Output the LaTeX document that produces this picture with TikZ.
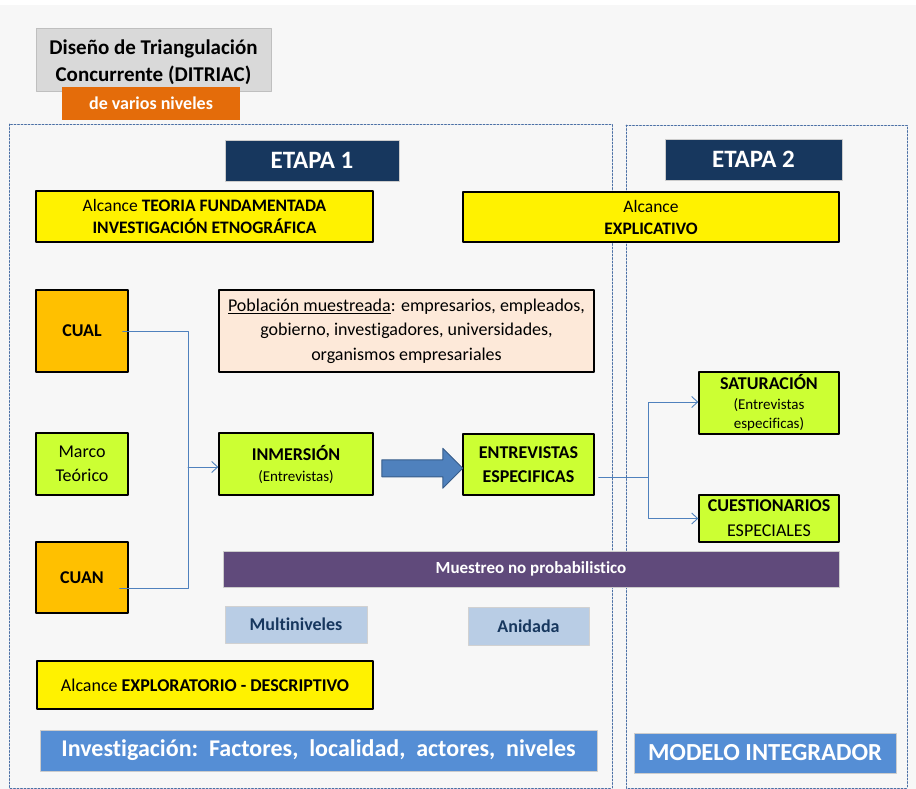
\documentclass[tikz,border=0pt]{standalone}
\usepackage{fontspec}
\setmainfont{Carlito}[Ligatures=NoCommon]
\usepackage{tikz}
\usetikzlibrary{arrows.meta,shapes.arrows,calc}

\definecolor{fondo}{HTML}{F7F7F7}
\definecolor{grisclaro}{HTML}{D9D9D9}
\definecolor{naranja}{HTML}{E46C0A}
\definecolor{marino}{HTML}{17375E}
\definecolor{oro}{HTML}{FFC000}
\definecolor{salmon}{HTML}{FDE9D9}
\definecolor{lima}{HTML}{CCFF33}
\definecolor{azulenlace}{HTML}{4F81BD}
\definecolor{azulborde}{HTML}{385D8A}
\definecolor{morado}{HTML}{604A7B}
\definecolor{celeste}{HTML}{B9CDE5}
\definecolor{azulbarra}{HTML}{558ED5}
\definecolor{marco}{HTML}{4A6FA5}

\begin{document}
\begin{tikzpicture}[line cap=round,line join=round,x=1pt,y=-1pt,
    caja/.style={draw=black,line width=1.4pt,align=center,inner sep=0pt,
        font=\fontsize{18}{24}\selectfont},
    etapa/.style={draw=black!20,line width=0.8pt,fill=marino,text=white,inner sep=0pt,
        font=\fontsize{25}{28}\selectfont\bfseries},
    barra/.style={draw=black!20,line width=0.8pt,fill=azulbarra,text=white,inner sep=0pt,
        font=\fontsize{24}{28}\selectfont\bfseries},
    etiqueta/.style={draw=black!18,line width=0.8pt,fill=celeste,text=marino,inner sep=0pt,
        font=\fontsize{18}{22}\selectfont\bfseries},
    enlace/.style={draw=azulenlace,line width=0.9pt},
    punta/.style={-{Straight Barb[length=6pt,width=11pt]}},
    zona/.style={draw=marco,line width=0.7pt,dash pattern=on 2pt off 1.5pt},
    flecha/.style={single arrow,draw=azulborde,fill=azulenlace,line width=1pt,inner sep=8pt,
        minimum height=81pt,single arrow head extend=11.5pt,single arrow tip angle=90}]
    \useasboundingbox (0,0) rectangle (916,789);
    \fill[fondo] (0,5) rectangle (916,789);

    % titulo
    \node[draw=black!25,line width=0.8pt,fill=grisclaro,align=center,inner sep=0pt,
        minimum width=235pt,minimum height=63pt,font=\fontsize{21}{27}\selectfont\bfseries]
        (titulo) at (153.5,59.5) {\rule{0pt}{21pt}Diseño de Triangulación\\Concurrente (DITRIAC)};
    \node[fill=naranja,text=white,inner sep=0pt,minimum width=178pt,minimum height=33pt,
        font=\fontsize{18}{22}\selectfont\bfseries] (niveles) at (151,103.5) {de varios niveles};

    % zonas
    \draw[zona] (9,124) rectangle (612,788);
    \draw[zona] (626,125) rectangle (907,788);

    \node[etapa,minimum width=174pt,minimum height=41pt] (etapa1) at (312,160.5) {ETAPA 1};
    \node[etapa,minimum width=177pt,minimum height=41pt] (etapa2) at (753.5,159.5) {ETAPA 2};

    \node[caja,fill=yellow,minimum width=337pt,minimum height=51pt,font=\fontsize{17.5}{22}\selectfont]
        (alcance1) at (204.5,216.5) {Alcance \textbf{TEORIA FUNDAMENTADA}\\\textbf{INVESTIGACIÓN ETNOGRÁFICA}};
    \node[caja,fill=yellow,minimum width=376pt,minimum height=50pt,font=\fontsize{17.5}{22}\selectfont]
        (alcance2) at (651,217) {Alcance\\\textbf{EXPLICATIVO}};

    \node[caja,fill=oro,minimum width=92pt,minimum height=82pt,font=\fontsize{18}{24}\selectfont\bfseries]
        (cual) at (82,331) {CUAL};
    \node[caja,fill=salmon,minimum width=375pt,minimum height=82pt,font=\fontsize{18}{24.5}\selectfont]
        (poblacion) at (406.5,331)
        {\underline{Población muestreada}: empresarios, empleados,\\gobierno, investigadores, universidades,\\organismos empresariales};

    \node[caja,fill=lima,minimum width=92pt,minimum height=62pt] (marcot) at (82,464) {Marco\\Teórico};
    \node[caja,fill=lima,minimum width=154pt,minimum height=62pt,font=\fontsize{15}{20}\selectfont]
        (inmersion) at (296,464)
        {\rule{0pt}{17pt}{\fontsize{18}{22}\selectfont\bfseries INMERSIÓN}\\[1pt](Entrevistas)};
    \node[caja,fill=lima,minimum width=131pt,minimum height=61pt,font=\fontsize{18}{24}\selectfont\bfseries]
        (entrevistas) at (528.5,464.5) {ENTREVISTAS\\ESPECIFICAS};
    \node[caja,fill=lima,minimum width=140pt,minimum height=62pt,font=\fontsize{15}{19}\selectfont]
        (saturacion) at (769,403)
        {{\fontsize{18}{22}\selectfont\bfseries SATURACIÓN}\\[1pt](Entrevistas\\especificas)};
    \node[caja,fill=lima,minimum width=140pt,minimum height=47pt,font=\fontsize{18}{25}\selectfont]
        (cuestionarios) at (769,518.5) {\textbf{CUESTIONARIOS}\\ESPECIALES};

    \node[caja,fill=oro,minimum width=92pt,minimum height=71pt,font=\fontsize{18}{24}\selectfont\bfseries]
        (cuan) at (82,577.5) {CUAN};

    \node[flecha] (avance) at ($(inmersion.east)!0.5!(entrevistas.west)+(0,4)$) {};

    % enlaces
    \coordinate (union1) at (188,467);
    \draw[enlace] ([xshift=-6pt]cual.east) -| (union1);
    \draw[enlace] ([xshift=-9pt,yshift=-11pt]cuan.east) -| (union1);
    \draw[enlace,punta] (union1) -- (inmersion.west |- union1);

    \coordinate (union2) at (648,477);
    \draw[enlace] ([xshift=4pt,yshift=-12.5pt]entrevistas.east) -- (union2);
    \draw[enlace,punta] (union2) |- ([yshift=1pt]saturacion.west);
    \draw[enlace,punta] (union2) |- (cuestionarios.west);

    \node[draw=black!20,line width=0.8pt,fill=morado,text=white,inner sep=0pt,minimum width=616pt,
        minimum height=36pt,font=\fontsize{17}{20}\selectfont\bfseries] (muestreo) at (531,569)
        {Muestreo no probabilistico};

    \node[etiqueta,minimum width=142pt,minimum height=37pt] (multi) at (296,624.5) {Multiniveles};
    \node[etiqueta,minimum width=121pt,minimum height=38pt] (anidada) at (528.5,626) {Anidada};

    \node[caja,fill=yellow,minimum width=336pt,minimum height=48pt] (alcance3) at (205,685)
        {Alcance \textbf{EXPLORATORIO - DESCRIPTIVO}};

    \node[barra,minimum width=557pt,minimum height=41pt] (investigacion) at (318.5,750.5)
        {Investigación:\ \ Factores,\ \ localidad,\ \ actores,\ \ niveles};
    \node[barra,minimum width=262pt,minimum height=40pt,font=\fontsize{24.5}{28}\selectfont\bfseries]
        (modelo) at (765,753) {MODELO INTEGRADOR};
\end{tikzpicture}
\end{document}
